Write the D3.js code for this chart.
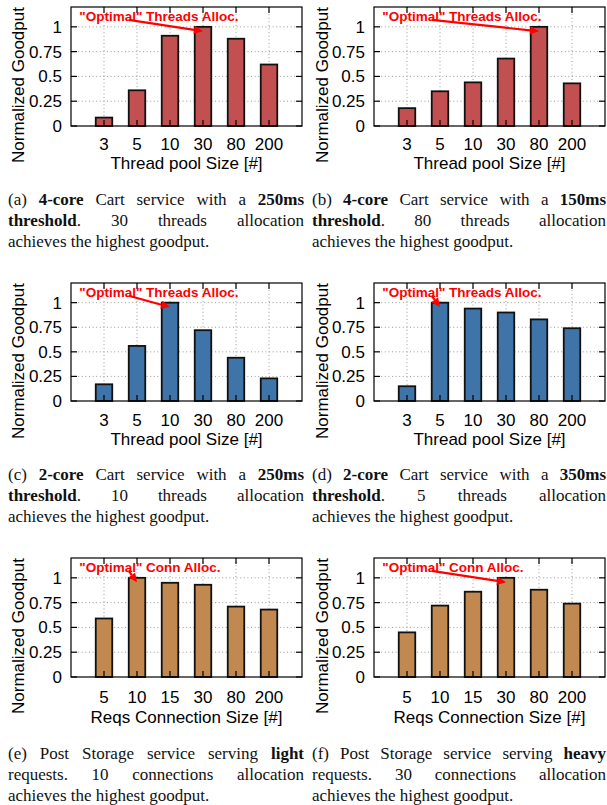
<!DOCTYPE html>
<html>
<head>
<meta charset="utf-8">
<script src="https://cdn.jsdelivr.net/npm/d3@7"></script>
<style>
  html, body { margin: 0; padding: 0; background: #fff; }
  svg { display: block; }
</style>
</head>
<body>
<svg id="fig" width="607" height="805"></svg>
<script>
// Category labels on the x axes
const threadPoolSizes = ["3", "5", "10", "30", "80", "200"];
const connectionSizes = ["5", "10", "15", "30", "80", "200"];

// Normalized goodput for each configuration
const cart4core250ms   = [0.085, 0.36, 0.91, 1.0, 0.88, 0.62];
const cart4core150ms   = [0.18, 0.35, 0.44, 0.68, 1.0, 0.43];
const cart2core250ms   = [0.17, 0.56, 1.0, 0.72, 0.44, 0.23];
const cart2core350ms   = [0.15, 1.0, 0.94, 0.90, 0.83, 0.74];
const postStorageLight = [0.59, 1.0, 0.95, 0.93, 0.71, 0.68];
const postStorageHeavy = [0.45, 0.72, 0.86, 1.0, 0.88, 0.74];

// Y axis ticks
const yTickValues = [0, 0.25, 0.5, 0.75, 1];
const yTickLabels = ["0", "0.25", "0.5", "0.75", "1"];

const RED = "#c35050", BLUE = "#3e74a8", BROWN = "#c1894f";
const SANS = "'Liberation Sans', Arial, Helvetica, sans-serif";
const SERIF = "'Liberation Serif', 'Times New Roman', serif";

// Sub-figures; captions use **...** for bold runs, one entry per line
const panels = [
  { cats: threadPoolSizes, values: cart4core250ms, color: RED,
    xTitle: "Thread pool Size [#]", note: "\"Optimal\" Threads Alloc.",
    caption: ["(a) **4-core** Cart service with a **250ms**",
              "**threshold**. 30 threads allocation",
              "achieves the highest goodput."] },
  { cats: threadPoolSizes, values: cart4core150ms, color: RED,
    xTitle: "Thread pool Size [#]", note: "\"Optimal\" Threads Alloc.",
    caption: ["(b) **4-core** Cart service with a **150ms**",
              "**threshold**. 80 threads allocation",
              "achieves the highest goodput."] },
  { cats: threadPoolSizes, values: cart2core250ms, color: BLUE,
    xTitle: "Thread pool Size [#]", note: "\"Optimal\" Threads Alloc.",
    caption: ["(c) **2-core** Cart service with a **250ms**",
              "**threshold**. 10 threads allocation",
              "achieves the highest goodput."] },
  { cats: threadPoolSizes, values: cart2core350ms, color: BLUE,
    xTitle: "Thread pool Size [#]", note: "\"Optimal\" Threads Alloc.",
    caption: ["(d) **2-core** Cart service with a **350ms**",
              "**threshold**. 5 threads allocation",
              "achieves the highest goodput."] },
  { cats: connectionSizes, values: postStorageLight, color: BROWN,
    xTitle: "Reqs Connection Size [#]", note: "\"Optimal\" Conn Alloc.",
    caption: ["(e) Post Storage service serving **light**",
              "requests. 10 connections allocation",
              "achieves the highest goodput."] },
  { cats: connectionSizes, values: postStorageHeavy, color: BROWN,
    xTitle: "Reqs Connection Size [#]", note: "\"Optimal\" Conn Alloc.",
    caption: ["(f) Post Storage service serving **heavy**",
              "requests. 30 connections allocation",
              "achieves the highest goodput."] }
];

// Page grid: two columns, three rows
const cols = [
  { x0: 71,  x1: 302, capX0: 8,   capX1: 304, yLabX: 24 },
  { x0: 374, x1: 605, capX0: 312, capX1: 606, yLabX: 328 }
];
const rows = [
  { top: 7,   bottom: 126, tickY: 150, titleY: 169, capY: 205 },
  { top: 283, bottom: 401, tickY: 426, titleY: 445, capY: 480 },
  { top: 558, bottom: 677, tickY: 703, titleY: 723, capY: 759 }
];

const svg = d3.select("#fig");

function drawPanel(p, col, row) {
  const g = svg.append("g");

  const x = d3.scaleBand().domain(p.cats).range([col.x0, col.x1])
    .paddingInner(0.5).paddingOuter(0.75);
  const y = d3.scaleLinear().domain([0, 1.2]).range([row.bottom, row.top]);
  // position along x measured in category steps (0 = first category centre)
  const xi = i => x(p.cats[0]) + x.bandwidth() / 2 + i * x.step();

  // dotted grid
  const grid = g.append("g").attr("stroke", "#9a9a9a").attr("stroke-width", 1)
    .attr("stroke-dasharray", "1,2.6");
  grid.selectAll("line.h").data(yTickValues.filter(v => v > 0)).join("line")
    .attr("x1", col.x0).attr("x2", col.x1)
    .attr("y1", d => y(d)).attr("y2", d => y(d));
  grid.selectAll("line.v").data(p.cats).join("line")
    .attr("x1", d => x(d) + x.bandwidth() / 2).attr("x2", d => x(d) + x.bandwidth() / 2)
    .attr("y1", row.top).attr("y2", row.bottom);

  // bars
  g.append("g").selectAll("rect").data(p.values).join("rect")
    .attr("x", (d, i) => x(p.cats[i]))
    .attr("width", x.bandwidth())
    .attr("y", d => y(d))
    .attr("height", d => y(0) - y(d))
    .attr("fill", p.color)
    .attr("stroke", "#111").attr("stroke-width", 1.8);

  // frame and inward ticks
  const axis = g.append("g").attr("stroke", "#000").attr("stroke-width", 1.2).attr("fill", "none");
  axis.append("rect").attr("x", col.x0).attr("y", row.top)
    .attr("width", col.x1 - col.x0).attr("height", row.bottom - row.top);
  yTickValues.forEach(v => {
    axis.append("line").attr("x1", col.x0).attr("x2", col.x0 + 6).attr("y1", y(v)).attr("y2", y(v));
    axis.append("line").attr("x1", col.x1).attr("x2", col.x1 - 6).attr("y1", y(v)).attr("y2", y(v));
  });
  p.cats.forEach(c => {
    const cx = x(c) + x.bandwidth() / 2;
    axis.append("line").attr("x1", cx).attr("x2", cx).attr("y1", row.top).attr("y2", row.top + 6);
    axis.append("line").attr("x1", cx).attr("x2", cx).attr("y1", row.bottom).attr("y2", row.bottom - 6);
  });

  // tick labels
  g.append("g").selectAll("text").data(yTickValues).join("text")
    .attr("x", col.x0 - 9).attr("y", d => y(d) + 6)
    .attr("text-anchor", "end").attr("font-family", SANS).attr("font-size", 17)
    .text((d, i) => yTickLabels[i]);
  g.append("g").selectAll("text").data(p.cats).join("text")
    .attr("x", d => x(d) + x.bandwidth() / 2).attr("y", row.tickY)
    .attr("text-anchor", "middle").attr("font-family", SANS).attr("font-size", 17)
    .text(d => d);

  // axis titles
  g.append("text")
    .attr("x", (col.x0 + col.x1) / 2).attr("y", row.titleY)
    .attr("text-anchor", "middle").attr("font-family", SANS).attr("font-size", 17)
    .text(p.xTitle);
  g.append("text")
    .attr("transform", `translate(${col.yLabX},${row.top + 78}) rotate(-90)`)
    .attr("text-anchor", "middle").attr("font-family", SANS).attr("font-size", 17)
    .text("Normalized Goodput");

  // annotation pointing at the best configuration
  const best = p.values.indexOf(d3.max(p.values));
  const ax0 = xi(0.75), ay0 = y(1.07);
  const ax1 = xi(best), ay1 = y(0.955);
  const ang = Math.atan2(ay1 - ay0, ax1 - ax0);
  const headLen = 9, headW = 4.2;
  const bx = ax1 - headLen * Math.cos(ang), by = ay1 - headLen * Math.sin(ang);
  g.append("line").attr("x1", ax0).attr("y1", ay0).attr("x2", bx).attr("y2", by)
    .attr("stroke", "#ff0000").attr("stroke-width", 2.2);
  g.append("path")
    .attr("d", `M${ax1},${ay1}L${bx + headW * Math.sin(ang)},${by - headW * Math.cos(ang)}` +
               `L${bx - headW * Math.sin(ang)},${by + headW * Math.cos(ang)}Z`)
    .attr("fill", "#ff0000");
  g.append("text")
    .attr("x", xi(-0.75)).attr("y", y(1.06))
    .attr("font-family", SANS).attr("font-weight", "bold").attr("font-size", 13.5)
    .attr("fill", "#ff0000")
    .text(p.note);

  // caption
  drawCaption(p.caption, col.capX0, col.capX1, row.capY);
}

// Sets one caption paragraph; every line but the last is justified
function drawCaption(lines, x0, x1, y0) {
  const g = svg.append("g").attr("font-family", SERIF).attr("font-size", 17).attr("fill", "#111");
  lines.forEach((line, li) => {
    const y = y0 + li * 21;
    // split into words, each word into bold / regular runs
    const words = line.split(" ").map(w => w.split("**").map((t, k) => ({ t, b: k % 2 === 1 }))
      .filter(s => s.t.length));
    const placed = words.map(segs => {
      const nodes = segs.map(s => {
        const t = g.append("text").attr("y", y).attr("font-weight", s.b ? "bold" : "normal").text(s.t);
        return { t, w: t.node().getComputedTextLength() };
      });
      return { nodes, w: d3.sum(nodes, n => n.w) };
    });
    const total = d3.sum(placed, w => w.w);
    const last = li === lines.length - 1;
    const gap = last ? 4.25 : (x1 - x0 - total) / (placed.length - 1);
    let cx = x0;
    placed.forEach(w => {
      w.nodes.forEach(n => { n.t.attr("x", cx); cx += n.w; });
      cx += gap;
    });
  });
}

panels.forEach((p, i) => drawPanel(p, cols[i % 2], rows[Math.floor(i / 2)]));
</script>
</body>
</html>
